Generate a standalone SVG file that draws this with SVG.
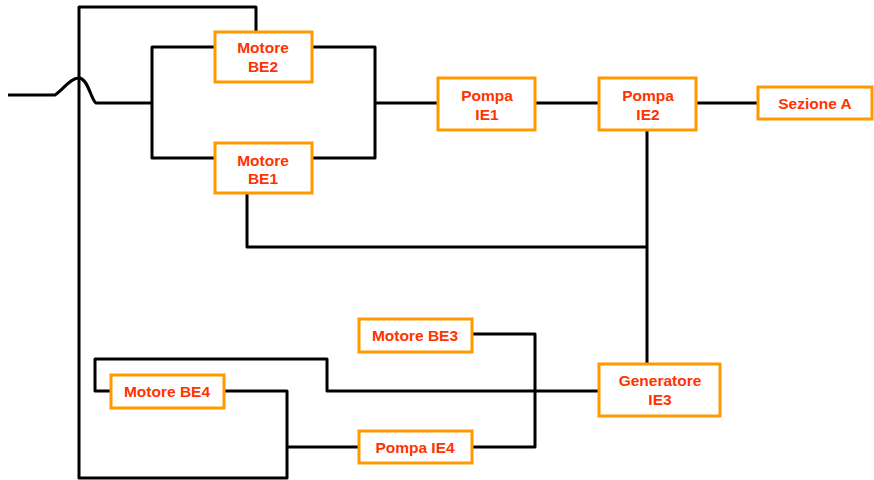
<svg xmlns="http://www.w3.org/2000/svg" width="874" height="480" viewBox="0 0 874 480">
  <style>
    .box { fill: #ffffff; stroke: #ff9900; stroke-width: 3; }
    .lbl { font-family: "Liberation Sans", Arial, sans-serif; font-weight: bold; font-size: 15.5px; fill: #ff3300; text-anchor: middle; }
    .wire { fill: none; stroke: #000000; stroke-width: 3; stroke-linejoin: round; }
  </style>
  <rect width="874" height="480" fill="#ffffff"/>

  <g id="connectors">
    <!-- input line hopping over the return wire -->
    <path class="wire" d="M8,95 L55,95 C63,90 70,78 79,78 C88,78 91,100 96,103 L152,103"/>
    <!-- parallel motors BE1 / BE2 -->
    <path class="wire" d="M215,47 H152 V158 H215"/>
    <path class="wire" d="M312,47 H375 V158 H312"/>
    <path class="wire" d="M375,103 H438"/>
    <path class="wire" d="M535,103 H599"/>
    <path class="wire" d="M696,103 H758"/>
    <!-- feedback from BE1 and IE2 to generator -->
    <path class="wire" d="M247,193 V247 H647"/>
    <path class="wire" d="M647,130 V364"/>
    <!-- outer return loop -->
    <path class="wire" d="M256,32 V7 H79 V478 H287 V391 H224"/>
    <path class="wire" d="M111,391 H95 V359 H327 V391 H599"/>
    <path class="wire" d="M287,447 H359"/>
    <path class="wire" d="M472,334 H535 V447 H472"/>
  </g>

  <g id="motore-be2">
    <rect class="box" x="215" y="32" width="97" height="50"/>
    <text class="lbl" x="263" y="53">Motore</text>
    <text class="lbl" x="263" y="72">BE2</text>
  </g>
  <g id="motore-be1">
    <rect class="box" x="215" y="143" width="97" height="50"/>
    <text class="lbl" x="263" y="166">Motore</text>
    <text class="lbl" x="263" y="184">BE1</text>
  </g>
  <g id="pompa-ie1">
    <rect class="box" x="438" y="78" width="97" height="52"/>
    <text class="lbl" x="487" y="101">Pompa</text>
    <text class="lbl" x="487" y="120">IE1</text>
  </g>
  <g id="pompa-ie2">
    <rect class="box" x="599" y="78" width="97" height="52"/>
    <text class="lbl" x="648" y="101">Pompa</text>
    <text class="lbl" x="648" y="120">IE2</text>
  </g>
  <g id="sezione-a">
    <rect class="box" x="758" y="87" width="114" height="32"/>
    <text class="lbl" x="815" y="109">Sezione A</text>
  </g>
  <g id="motore-be3">
    <rect class="box" x="359" y="319" width="113" height="33"/>
    <text class="lbl" x="415" y="341">Motore BE3</text>
  </g>
  <g id="motore-be4">
    <rect class="box" x="111" y="375" width="113" height="33"/>
    <text class="lbl" x="167" y="397">Motore BE4</text>
  </g>
  <g id="pompa-ie4">
    <rect class="box" x="359" y="431" width="113" height="32"/>
    <text class="lbl" x="415" y="453">Pompa IE4</text>
  </g>
  <g id="generatore-ie3">
    <rect class="box" x="599" y="364" width="121" height="52"/>
    <text class="lbl" x="660" y="386">Generatore</text>
    <text class="lbl" x="660" y="405">IE3</text>
  </g>
</svg>
